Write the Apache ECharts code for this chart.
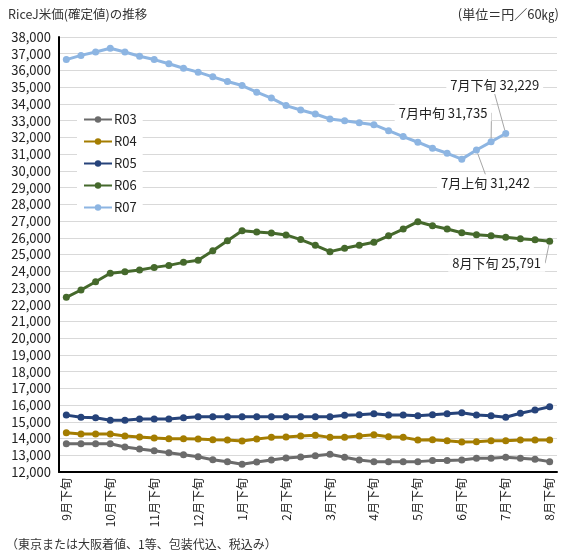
<!DOCTYPE html>
<html>
<head>
<meta charset="utf-8">
<script src="https://cdn.jsdelivr.net/npm/echarts@6/dist/echarts.min.js"></script>
<style>
  html, body { margin: 0; padding: 0; background: #fff; }
  #chart { width: 567px; height: 551px; }
</style>
</head>
<body>
<div id="chart"></div>
<script>
var categories = ['9月下旬', '10月上旬', '10月中旬', '10月下旬', '11月上旬', '11月中旬', '11月下旬',
    '12月上旬', '12月中旬', '12月下旬', '1月上旬', '1月中旬', '1月下旬', '2月上旬', '2月中旬', '2月下旬',
    '3月上旬', '3月中旬', '3月下旬', '4月上旬', '4月中旬', '4月下旬', '5月上旬', '5月中旬', '5月下旬',
    '6月上旬', '6月中旬', '6月下旬', '7月上旬', '7月中旬', '7月下旬', '8月上旬', '8月中旬', '8月下旬'];

var r03 = [13690, 13690, 13690, 13690, 13490, 13370, 13270, 13150, 13030, 12910, 12730, 12610, 12460, 12600, 12720, 12840,
    12890, 12970, 13060, 12880, 12720, 12620, 12620, 12620, 12620, 12680, 12680, 12720, 12820, 12820, 12880, 12820, 12760, 12620];
var r04 = [14350, 14270, 14270, 14270, 14150, 14090, 14030, 13990, 13990, 13970, 13930, 13910, 13850, 13970, 14070, 14090,
    14150, 14190, 14070, 14070, 14150, 14230, 14110, 14070, 13910, 13930, 13870, 13790, 13810, 13870, 13870, 13910, 13910, 13910];
var r05 = [15400, 15270, 15240, 15090, 15090, 15170, 15170, 15170, 15240, 15300, 15300, 15300, 15300, 15300, 15300, 15300,
    15300, 15300, 15300, 15390, 15420, 15480, 15410, 15410, 15360, 15420, 15480, 15540, 15410, 15360, 15270, 15510, 15700, 15900];
var r06 = [22440, 22880, 23370, 23880, 23970, 24070, 24230, 24350, 24530, 24650, 25230, 25820, 26420, 26340, 26290, 26170,
    25890, 25550, 25170, 25370, 25550, 25730, 26120, 26520, 26960, 26720, 26520, 26300, 26180, 26120, 26030, 25940, 25880, 25791];
var r07 = [36650, 36900, 37100, 37330, 37100, 36850, 36650, 36400, 36130, 35900, 35620, 35340, 35100, 34700, 34350, 33900,
    33640, 33400, 33100, 33000, 32880, 32760, 32400, 32050, 31710, 31350, 31050, 30700, 31242, 31735, 32229, null, null, null];

var seriesNames = ['R03', 'R04', 'R05', 'R06', 'R07'];
var seriesColors = ['#6b6b6b', '#a47d00', '#26437a', '#45692c', '#8db5e2'];

// labelled points: series index -> {dataIndex: [dx, dy]}
var labelOffsets = {
    3: { 33: [-53, 22] },
    4: { 28: [9, 33], 29: [-48, -29], 30: [-11, -48] }
};

var font = '"Noto Sans CJK JP", "Noto Sans", sans-serif';

function fmt(v) {
    return String(v).replace(/\B(?=(\d{3})+(?!\d))/g, ',');
}

var chart = echarts.init(document.getElementById('chart'));

var allData = [r03, r04, r05, r06, r07];

var series = allData.map(function (values, si) {
    var offs = labelOffsets[si] || {};
    return {
        name: seriesNames[si],
        type: 'line',
        data: values.map(function (v, i) {
            if (offs[i]) {
                return {
                    value: v,
                    label: {
                        show: true,
                        position: 'inside',
                        formatter: function (p) { return p.name + ' ' + fmt(p.value); }
                    }
                };
            }
            return v;
        }),
        symbol: 'circle',
        symbolSize: 7,
        showSymbol: true,
        connectNulls: false,
        lineStyle: { width: 3, color: seriesColors[si] },
        itemStyle: { color: seriesColors[si] },
        label: {
            show: false,
            fontFamily: font,
            fontSize: 13,
            color: '#222',
            backgroundColor: '#fff',
            padding: [2, 4]
        },
        labelLine: {
            show: true,
            lineStyle: { color: '#a6a6a6', width: 1 }
        },
        labelLayout: function (p) {
            var o = offs[p.dataIndex];
            if (!o) return {};
            return { dx: o[0], dy: o[1] };
        },
        emphasis: { disabled: true },
        animation: false
    };
});

var option = {
    backgroundColor: '#fff',
    animation: false,
    textStyle: { fontFamily: font },
    title: [
        {
            text: 'RiceJ米価(確定値)の推移',
            left: 3, top: 3,
            textStyle: { fontFamily: font, fontSize: 12.5, fontWeight: 'normal', color: '#333' }
        },
        {
            text: '(単位＝円／60㎏)',
            right: 3, top: 3,
            textStyle: { fontFamily: font, fontSize: 13, fontWeight: 'normal', color: '#333' }
        },
        {
            text: '（東京または大阪着値、1等、包装代込、税込み）',
            left: 1, top: 533,
            textStyle: { fontFamily: font, fontSize: 12, fontWeight: 'normal', color: '#333' }
        }
    ],
    legend: {
        orient: 'vertical',
        left: 77,
        top: 107,
        padding: [6, 6],
        itemWidth: 28,
        itemHeight: 8,
        itemGap: 9,
        backgroundColor: '#fff',
        data: seriesNames,
        textStyle: { fontFamily: font, fontSize: 13, color: '#222', padding: [0, 0, 0, -3] }
    },
    grid: {
        left: 59,
        right: 10,
        top: 37,
        bottom: 79
    },
    xAxis: {
        type: 'category',
        data: categories,
        boundaryGap: true,
        axisLine: { lineStyle: { color: '#000', width: 2 } },
        axisTick: { show: false },
        axisLabel: {
            interval: 2,
            rotate: 90,
            fontFamily: font,
            fontSize: 12,
            color: '#222',
            margin: 6
        }
    },
    yAxis: {
        type: 'value',
        min: 12000,
        max: 38000,
        interval: 1000,
        axisLine: { show: true, lineStyle: { color: '#000', width: 2 } },
        axisTick: { show: false },
        splitLine: { lineStyle: { color: '#d9d9d9', width: 1 } },
        axisLabel: {
            fontFamily: font,
            fontSize: 13,
            color: '#222',
            margin: 8,
            formatter: function (v) { return fmt(v); }
        }
    },
    series: series
};

chart.setOption(option);
</script>
</body>
</html>
